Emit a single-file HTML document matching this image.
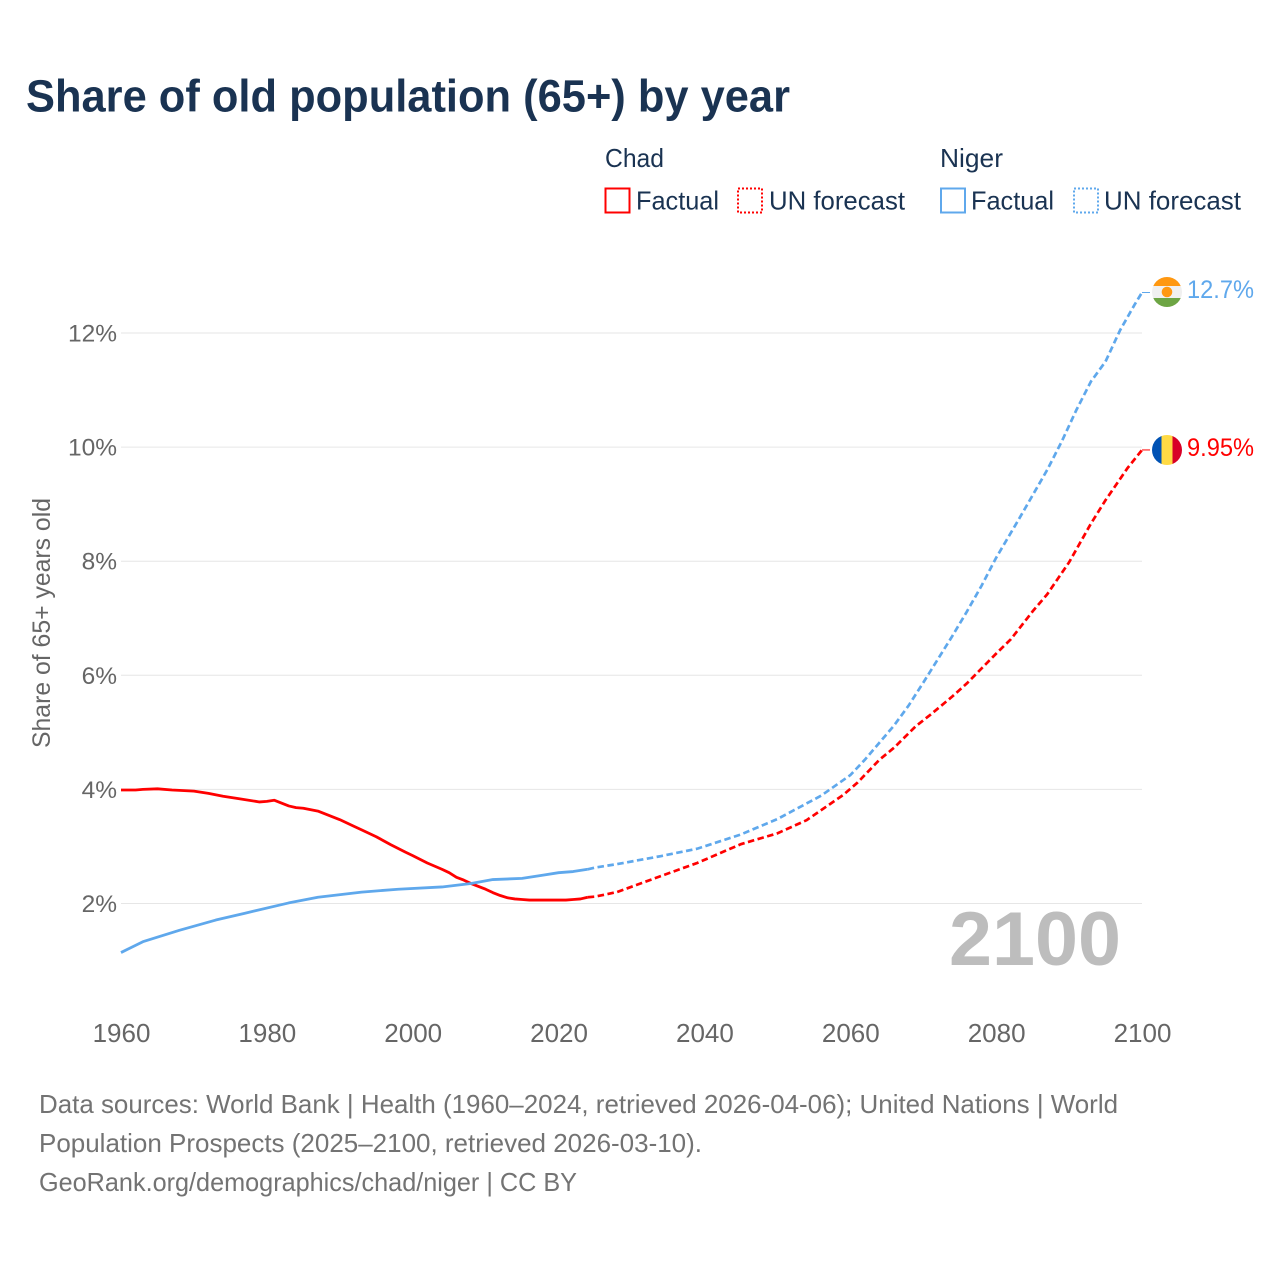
<!DOCTYPE html>
<html lang="en">
<head>
<meta charset="utf-8">
<title>Share of old population (65+) by year</title>
<style>
html,body{margin:0;padding:0;background:#fff}
svg{display:block}
text{font-family:"Liberation Sans",sans-serif}
</style>
</head>
<body>
<svg id="chart" width="1280" height="1280" viewBox="0 0 1280 1280" xmlns="http://www.w3.org/2000/svg">
  <rect x="0" y="0" width="1280" height="1280" fill="#ffffff"/>
  <text x="26" y="111.5" font-size="45" font-weight="700" fill="#1a3352" textLength="764" lengthAdjust="spacingAndGlyphs">Share of old population (65+) by year</text>

  <g font-size="26" fill="#1a3352">
    <text x="605" y="167" textLength="59" lengthAdjust="spacingAndGlyphs">Chad</text>
    <text x="940" y="167" textLength="63" lengthAdjust="spacingAndGlyphs">Niger</text>
    <rect x="605.5" y="188.5" width="24" height="24" fill="none" stroke="#ff0000" stroke-width="2"/>
    <text x="636" y="209.5" textLength="83" lengthAdjust="spacingAndGlyphs">Factual</text>
    <rect x="738" y="188.5" width="24" height="24" fill="none" stroke="#ff0000" stroke-width="2" stroke-dasharray="2 2"/>
    <text x="769" y="209.5" textLength="136" lengthAdjust="spacingAndGlyphs">UN forecast</text>
    <rect x="941" y="188.5" width="24" height="24" fill="none" stroke="#5fa8ec" stroke-width="2"/>
    <text x="971" y="209.5" textLength="83" lengthAdjust="spacingAndGlyphs">Factual</text>
    <rect x="1074" y="188.5" width="24" height="24" fill="none" stroke="#5fa8ec" stroke-width="2" stroke-dasharray="2 2"/>
    <text x="1104" y="209.5" textLength="137" lengthAdjust="spacingAndGlyphs">UN forecast</text>
  </g>

  <text transform="translate(50,623) rotate(-90)" text-anchor="middle" font-size="25" fill="#666666" textLength="250" lengthAdjust="spacingAndGlyphs">Share of 65+ years old</text>
  <g id="grid"></g>
  <g id="yticks"></g>
  <g id="xticks"></g>

  <text x="949" y="965" font-size="76" font-weight="700" fill="#bdbdbd" textLength="172" lengthAdjust="spacingAndGlyphs">2100</text>

  <g id="series"></g>

  <defs>
    <clipPath id="flag-clip-niger"><circle cx="1167" cy="292" r="15"/></clipPath>
    <clipPath id="flag-clip-chad"><circle cx="1167" cy="450" r="15"/></clipPath>
  </defs>
  <g clip-path="url(#flag-clip-niger)">
    <rect x="1152" y="277" width="30" height="9" fill="#ff9811"/>
    <rect x="1152" y="286" width="30" height="12" fill="#f0f0f0"/>
    <rect x="1152" y="298" width="30" height="9" fill="#6da544"/>
    <circle cx="1167" cy="292" r="5.3" fill="#ff9811"/>
  </g>
  <g clip-path="url(#flag-clip-chad)">
    <rect x="1152" y="435" width="9.5" height="30" fill="#0052b4"/>
    <rect x="1161.5" y="435" width="11" height="30" fill="#ffda44"/>
    <rect x="1172.5" y="435" width="9.5" height="30" fill="#d80027"/>
  </g>
  <text x="1187" y="298" font-size="25" fill="#5fa8ec" textLength="67" lengthAdjust="spacingAndGlyphs">12.7%</text>
  <text x="1187" y="456" font-size="25" fill="#ff0000" textLength="67" lengthAdjust="spacingAndGlyphs">9.95%</text>

  <g font-size="26" fill="#737373">
    <text x="39" y="1113" textLength="1079" lengthAdjust="spacingAndGlyphs">Data sources: World Bank | Health (1960–2024, retrieved 2026-04-06); United Nations | World</text>
    <text x="39" y="1152" textLength="663" lengthAdjust="spacingAndGlyphs">Population Prospects (2025–2100, retrieved 2026-03-10).</text>
    <text x="39" y="1191" textLength="538" lengthAdjust="spacingAndGlyphs">GeoRank.org/demographics/chad/niger | CC BY</text>
  </g>
</svg>
<script>
var yTickValues = [2, 4, 6, 8, 10, 12];
var yTickLabels = ["2%", "4%", "6%", "8%", "10%", "12%"];
var xTickValues = [1960, 1980, 2000, 2020, 2040, 2060, 2080, 2100];
var xTickLabels = ["1960", "1980", "2000", "2020", "2040", "2060", "2080", "2100"];

var chadFactualYears = [1960,1962,1963,1965,1967,1970,1972,1974,1976,1979,1980,1981,1982,1983,1984,1985,1987,1989,1990,1992,1993,1995,1997,1999,2000,2002,2004,2005,2006,2007,2008,2010,2011,2012,2013,2014,2015,2016,2018,2021,2022,2023,2024];
var chadFactualValues = [3.99,3.99,4.00,4.01,3.99,3.97,3.93,3.88,3.84,3.78,3.79,3.81,3.76,3.71,3.68,3.67,3.62,3.52,3.47,3.35,3.29,3.17,3.03,2.90,2.84,2.71,2.60,2.54,2.46,2.41,2.35,2.25,2.19,2.14,2.10,2.08,2.07,2.06,2.06,2.06,2.07,2.08,2.11];
var chadForecastYears = [2024,2025,2028,2034,2039,2045,2050,2054,2059,2061,2064,2066,2069,2071,2074,2076,2078,2080,2082,2085,2087,2090,2093,2095,2098,2100];
var chadForecastValues = [2.11,2.12,2.20,2.48,2.71,3.04,3.23,3.46,3.90,4.12,4.52,4.73,5.11,5.31,5.63,5.86,6.12,6.38,6.63,7.12,7.42,7.98,8.66,9.07,9.63,9.95];

var nigerFactualYears = [1960,1963,1968,1973,1977,1983,1987,1993,1998,2004,2006,2008,2011,2015,2018,2020,2022,2024];
var nigerFactualValues = [1.14,1.33,1.53,1.71,1.83,2.01,2.11,2.20,2.25,2.29,2.32,2.35,2.42,2.44,2.50,2.54,2.56,2.60];
var nigerForecastYears = [2024,2025,2028,2034,2039,2045,2050,2056,2060,2062,2064,2066,2068,2070,2072,2074,2076,2078,2080,2083,2087,2089,2091,2093,2095,2097,2099,2100];
var nigerForecastValues = [2.60,2.63,2.69,2.83,2.96,3.21,3.48,3.89,4.25,4.52,4.82,5.12,5.47,5.87,6.28,6.69,7.12,7.57,8.06,8.71,9.60,10.10,10.65,11.15,11.50,12.05,12.50,12.71];

var SVG_NS = "http://www.w3.org/2000/svg";
function xScale(year) { return 121 + (year - 1960) * (1142 - 121) / 140; }
function yScale(value) { return 903.5 - (value - 2) * 57.05; }
function pathFrom(years, values) {
  var d = "";
  for (var i = 0; i < years.length; i++) {
    d += (i ? "L" : "M") + xScale(years[i]).toFixed(2) + " " + yScale(values[i]).toFixed(2);
  }
  return d;
}
var gridGroup = document.getElementById("grid");
var yGroup = document.getElementById("yticks");
var xGroup = document.getElementById("xticks");
var seriesGroup = document.getElementById("series");

yTickValues.forEach(function (v, i) {
  var line = document.createElementNS(SVG_NS, "line");
  
  
  line.setAttribute("x1", xScale(1960));
  line.setAttribute("x2", xScale(2100));
  line.setAttribute("y1", yScale(v));
  line.setAttribute("y2", yScale(v));
  line.setAttribute("stroke", "#e6e6e6");
  line.setAttribute("stroke-width", "1");
  gridGroup.appendChild(line);
  var t = document.createElementNS(SVG_NS, "text");
  
  
  t.setAttribute("x", 117);
  t.setAttribute("y", yScale(v) + 8.5);
  t.setAttribute("text-anchor", "end");
  t.setAttribute("font-size", "24.5");
  t.setAttribute("fill", "#666666");
  t.textContent = yTickLabels[i];
  yGroup.appendChild(t);
});
xTickValues.forEach(function (v, i) {
  var t = document.createElementNS(SVG_NS, "text");
  
  
  t.setAttribute("x", xScale(v) + 0.5);
  t.setAttribute("y", 1042);
  t.setAttribute("text-anchor", "middle");
  t.setAttribute("font-size", "26");
  t.setAttribute("fill", "#666666");
  t.textContent = xTickLabels[i];
  xGroup.appendChild(t);
});

var chadFactualLine = document.createElementNS(SVG_NS, "path");


chadFactualLine.setAttribute("d", pathFrom(chadFactualYears, chadFactualValues));
chadFactualLine.setAttribute("fill", "none");
chadFactualLine.setAttribute("stroke", "#ff0000");
chadFactualLine.setAttribute("stroke-width", "2.8");
chadFactualLine.setAttribute("stroke-linejoin", "round");
seriesGroup.appendChild(chadFactualLine);

var chadForecastLine = document.createElementNS(SVG_NS, "path");


chadForecastLine.setAttribute("d", pathFrom(chadForecastYears, chadForecastValues));
chadForecastLine.setAttribute("fill", "none");
chadForecastLine.setAttribute("stroke", "#ff0000");
chadForecastLine.setAttribute("stroke-width", "2.7");
chadForecastLine.setAttribute("stroke-dasharray", "6.5 3.5");
seriesGroup.appendChild(chadForecastLine);

var nigerFactualLine = document.createElementNS(SVG_NS, "path");


nigerFactualLine.setAttribute("d", pathFrom(nigerFactualYears, nigerFactualValues));
nigerFactualLine.setAttribute("fill", "none");
nigerFactualLine.setAttribute("stroke", "#5fa8ec");
nigerFactualLine.setAttribute("stroke-width", "2.8");
nigerFactualLine.setAttribute("stroke-linejoin", "round");
seriesGroup.appendChild(nigerFactualLine);

var nigerForecastLine = document.createElementNS(SVG_NS, "path");


nigerForecastLine.setAttribute("d", pathFrom(nigerForecastYears, nigerForecastValues));
nigerForecastLine.setAttribute("fill", "none");
nigerForecastLine.setAttribute("stroke", "#5fa8ec");
nigerForecastLine.setAttribute("stroke-width", "2.7");
nigerForecastLine.setAttribute("stroke-dasharray", "6.5 3.5");
seriesGroup.appendChild(nigerForecastLine);

var chadConnector = document.createElementNS(SVG_NS, "line");


chadConnector.setAttribute("x1", xScale(2100));
chadConnector.setAttribute("x2", xScale(2100) + 8);
chadConnector.setAttribute("y1", yScale(chadForecastValues[chadForecastValues.length - 1]));
chadConnector.setAttribute("y2", yScale(chadForecastValues[chadForecastValues.length - 1]));
chadConnector.setAttribute("stroke", "#ff0000");
chadConnector.setAttribute("stroke-width", "1");
seriesGroup.appendChild(chadConnector);

var nigerConnector = document.createElementNS(SVG_NS, "line");


nigerConnector.setAttribute("x1", xScale(2100));
nigerConnector.setAttribute("x2", xScale(2100) + 8);
nigerConnector.setAttribute("y1", yScale(nigerForecastValues[nigerForecastValues.length - 1]));
nigerConnector.setAttribute("y2", yScale(nigerForecastValues[nigerForecastValues.length - 1]));
nigerConnector.setAttribute("stroke", "#5fa8ec");
nigerConnector.setAttribute("stroke-width", "1");
seriesGroup.appendChild(nigerConnector);
</script>
</body>
</html>
